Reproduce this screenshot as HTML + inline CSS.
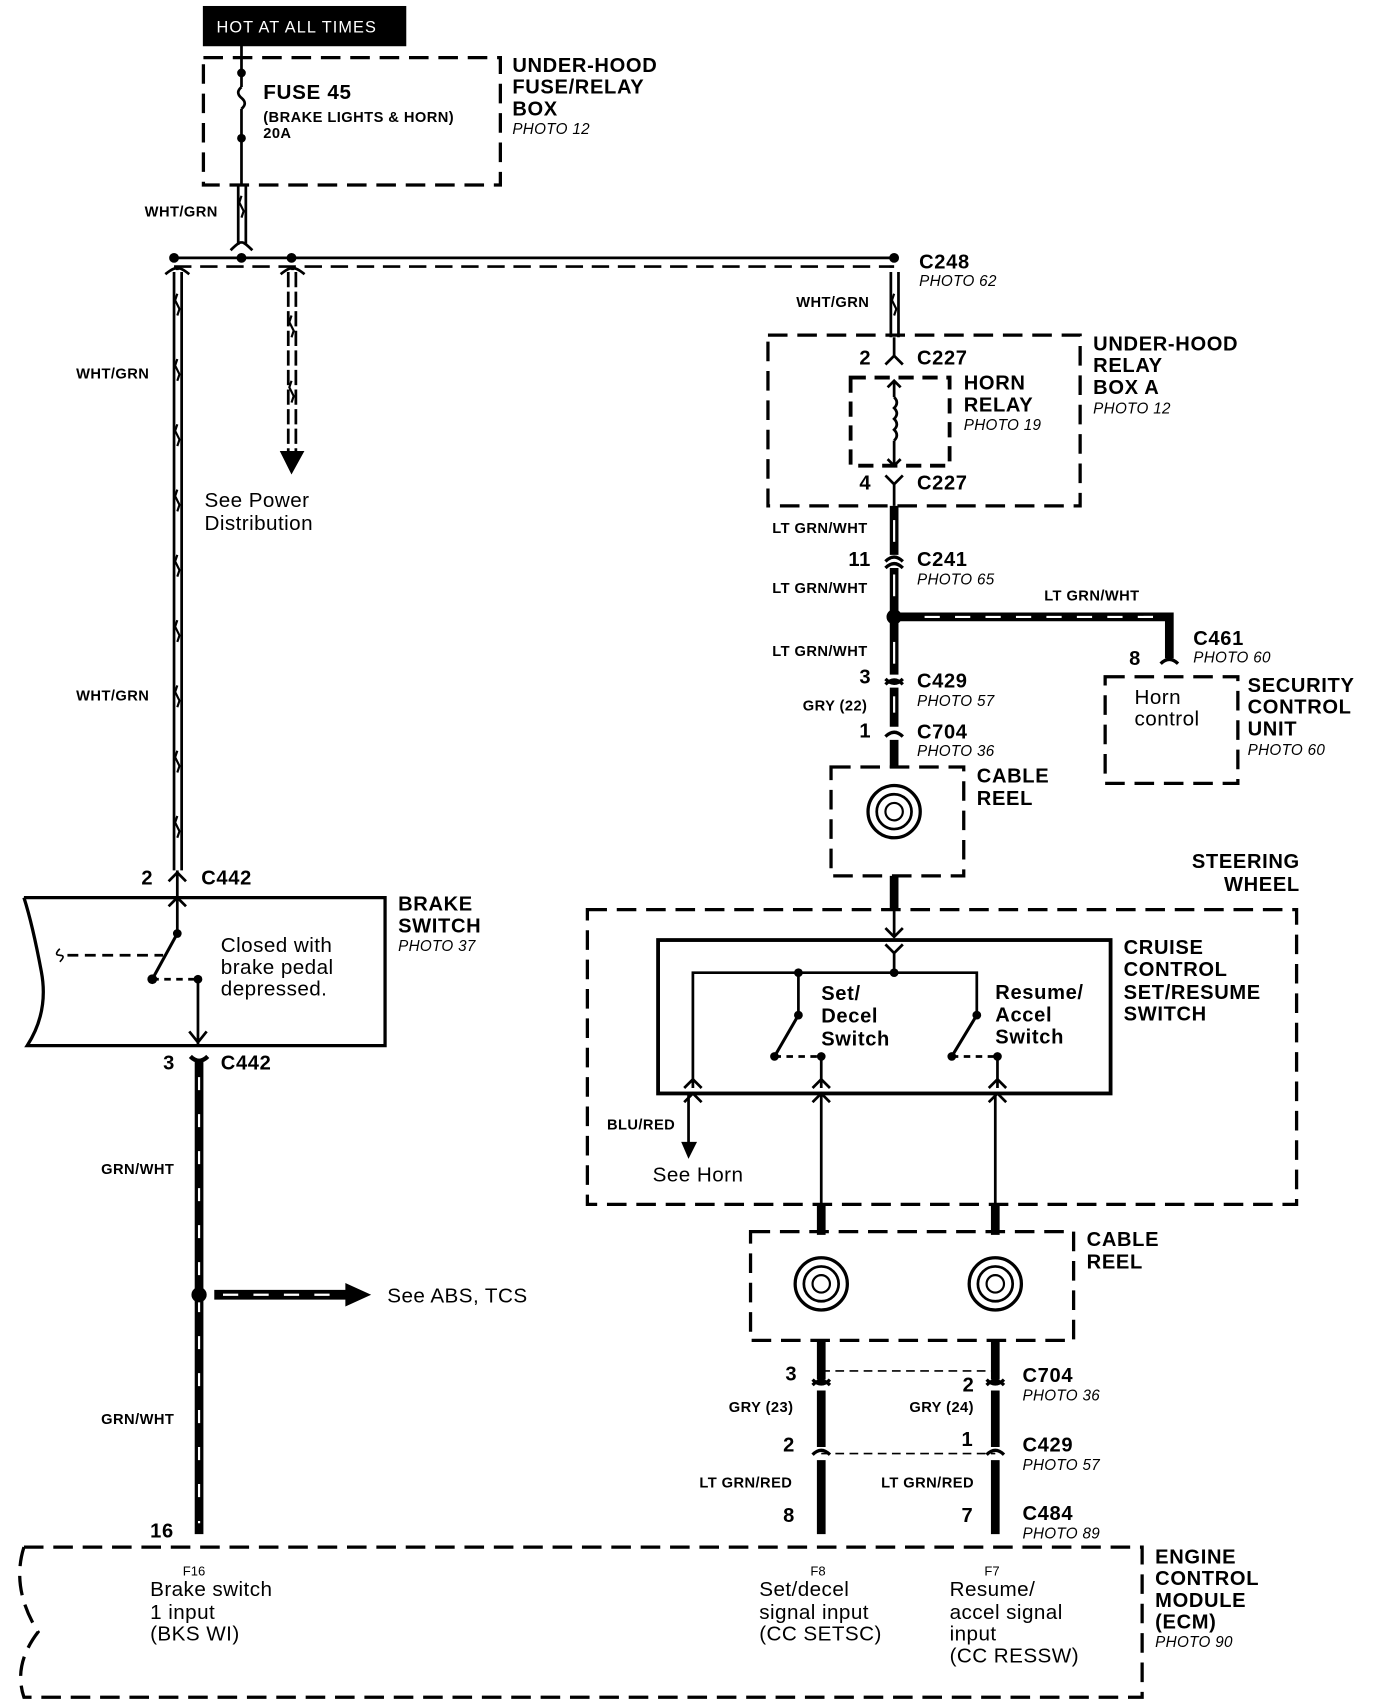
<!DOCTYPE html>
<html><head><meta charset="utf-8"><style>
html,body{margin:0;padding:0;background:#fff;}
svg{display:block;}
text{font-family:"Liberation Sans",Arial,sans-serif;fill:#000;}
.b{font-weight:bold;font-size:18.5px;letter-spacing:0.6px;}
.s{font-weight:bold;font-size:13.5px;letter-spacing:0.4px;}
.i{font-style:italic;font-size:14px;letter-spacing:0.3px;}
.n{font-size:19px;letter-spacing:0.4px;}
</style></head><body>
<svg width="1376" height="1706" viewBox="0 0 1265 1568" preserveAspectRatio="none" xmlns="http://www.w3.org/2000/svg">
<g fill="none" stroke="#000">
<rect x="187" y="6" width="186" height="36" fill="#000"/>
<rect x="187" y="53" width="273" height="117" stroke-width="3" stroke-dasharray="18 9"/>
<line x1="222" y1="42" x2="222" y2="80" stroke-width="2.5"/>
<path d="M222 80 q-6 5 0 10 q6 5 0 10" stroke-width="2.5"/>
<line x1="222" y1="100" x2="222" y2="170" stroke-width="2.5"/>
<g stroke-width="2.5">
<line x1="219" y1="170" x2="219" y2="225"/><line x1="226" y1="170" x2="226" y2="225"/>
<path d="M212 230 q10 -10 10 -6 q0 -4 10 6"/>
<line x1="160" y1="237" x2="822" y2="237"/>
<line x1="160" y1="245" x2="822" y2="245" stroke-dasharray="16 8"/>
<line x1="160" y1="250" x2="160" y2="800"/><line x1="167" y1="250" x2="167" y2="800"/>
<path d="M152 252 q10 -8 11 -4 q1 -4 11 4"/>
<line x1="265" y1="250" x2="265" y2="415" stroke-dasharray="14 4"/><line x1="272" y1="250" x2="272" y2="415" stroke-dasharray="14 4"/>
<path d="M258 252 q10 -8 11 -4 q1 -4 11 4"/>
<line x1="819" y1="250" x2="819" y2="310"/><line x1="826" y1="250" x2="826" y2="310"/>
</g>
<polygon points="258,415 279,415 268,435" fill="#000"/>
<g stroke-width="2">
<path d="M163 270 l-2 6 l4 8 l-2 6 M163 330 l-2 6 l4 8 l-2 6 M163 390 l-2 6 l4 8 l-2 6 M163 450 l-2 6 l4 8 l-2 6 M163 510 l-2 6 l4 8 l-2 6 M163 570 l-2 6 l4 8 l-2 6 M163 630 l-2 6 l4 8 l-2 6 M163 690 l-2 6 l4 8 l-2 6 M163 750 l-2 6 l4 8 l-2 6"/>
<path d="M268 290 l-2 6 l4 8 l-2 6 M268 350 l-2 6 l4 8 l-2 6 M222 180 l-2 6 l4 8 l-2 6 M822 270 l-2 6 l4 8 l-2 6"/>
</g>
<g fill="#000" stroke="none">
<circle cx="160" cy="237" r="4.5"/><circle cx="222" cy="237" r="4.5"/><circle cx="268" cy="237" r="4.5"/><circle cx="822" cy="237" r="4.5"/>
<circle cx="222" cy="67" r="4"/><circle cx="222" cy="127" r="4"/>
</g>
<rect x="706" y="308" width="287" height="157" stroke-width="3" stroke-dasharray="18 9"/>
<path d="M814 335 l8 -8 l8 8 M822 327 v-17" stroke-width="2.5"/>
<rect x="782" y="347" width="91" height="81" stroke-width="3.5" stroke-dasharray="14 8"/>
<line x1="822" y1="350" x2="822" y2="365" stroke-width="2.5"/>
<path d="M816 356 l6 -6 l6 6 M816 422 l6 6 l6 -6" stroke-width="2.5"/>
<path d="M822 365 q5 5 0 10 q5 5 0 10 q5 5 0 10 q5 5 0 10" stroke-width="2.5"/>
<line x1="822" y1="405" x2="822" y2="428" stroke-width="2.5"/>
<path d="M814 437 l8 8 l8 -8 M822 445 v20" stroke-width="2.5"/>
<g stroke-width="8">
<line x1="822" y1="465" x2="822" y2="510"/>
<line x1="822" y1="522" x2="822" y2="620"/>
<line x1="822" y1="567" x2="1077" y2="567"/>
<line x1="1075" y1="563" x2="1075" y2="605"/>
<line x1="822" y1="632" x2="822" y2="668"/>
<line x1="822" y1="680" x2="822" y2="706"/>
<line x1="822" y1="805" x2="822" y2="836"/>
</g>
<g stroke="#fff" stroke-width="2">
<line x1="822" y1="478" x2="822" y2="498"/><line x1="822" y1="528" x2="822" y2="548"/><line x1="822" y1="590" x2="822" y2="610"/>
<line x1="822" y1="640" x2="822" y2="655"/>
<line x1="850" y1="567" x2="1060" y2="567" stroke-dasharray="14 14"/>
</g>
<path d="M814 516 q8 -8 16 0 M814 522 q8 -8 16 0 M814 629 q8 -8 16 0 M814 624 q8 8 16 0 M814 677 q8 -8 16 0 M1067 610 q8 -8 16 0" stroke-width="3"/>
<circle cx="822" cy="567" r="7" fill="#000" stroke="none"/>
<rect x="1016" y="622" width="122" height="98" stroke-width="3" stroke-dasharray="18 9"/>
<rect x="764" y="705" width="122" height="100" stroke-width="3" stroke-dasharray="18 9"/>
<circle cx="822" cy="746" r="24" stroke-width="3"/><circle cx="822" cy="746" r="16" stroke-width="2.5"/><circle cx="822" cy="746" r="8" stroke-width="2"/>
<rect x="540" y="836" width="652" height="271" stroke-width="3" stroke-dasharray="18 9"/>
<line x1="822" y1="836" x2="822" y2="860" stroke-width="2.5"/>
<path d="M814 853 l8 8 l8 -8" stroke-width="2.5"/>
<rect x="605" y="864" width="416" height="141" stroke-width="3.5"/>
<path d="M814 868 l8 8 l8 -8 M822 876 v17" stroke-width="2.5"/>
<path d="M637 1000 V894 H898 V933 M734 894 V933" stroke-width="2.5"/>
<path d="M734 933 L712 971 M898 933 L875 971" stroke-width="2.8"/>
<path d="M712 971 L752 971 M875 971 L915 971" stroke-width="2.5" stroke-dasharray="6 5"/>
<g fill="#000" stroke="none">
<circle cx="734" cy="894" r="4"/><circle cx="822" cy="894" r="4"/><circle cx="734" cy="933" r="4"/><circle cx="898" cy="933" r="4"/>
<circle cx="712" cy="971" r="4"/><circle cx="755" cy="971" r="4"/><circle cx="875" cy="971" r="4"/><circle cx="917" cy="971" r="4"/>
</g>
<path d="M755 971 V1000 M917 971 V1000" stroke-width="2.5"/>
<path d="M629 1000 l8 -8 l8 8 M747 1000 l8 -8 l8 8 M909 1000 l8 -8 l8 8 M629 1013 l8 -8 l8 8 M747 1013 l8 -8 l8 8 M909 1013 l8 -8 l8 8" stroke-width="2.5"/>
<line x1="633" y1="1005" x2="633" y2="1052" stroke-width="2.5"/>
<polygon points="627,1050 640,1050 633,1064" fill="#000"/>
<path d="M755 1005 V1107 M915 1005 V1107" stroke-width="2.5"/>
<path d="M755 1107 V1135 M915 1107 V1135" stroke-width="8"/>
<rect x="690" y="1132" width="297" height="100" stroke-width="3" stroke-dasharray="18 9"/>
<circle cx="755" cy="1180" r="24" stroke-width="3"/><circle cx="755" cy="1180" r="16" stroke-width="2.5"/><circle cx="755" cy="1180" r="8" stroke-width="2"/>
<circle cx="915" cy="1180" r="24" stroke-width="3"/><circle cx="915" cy="1180" r="16" stroke-width="2.5"/><circle cx="915" cy="1180" r="8" stroke-width="2"/>
<g stroke-width="8">
<path d="M755 1232 V1268 M755 1278 V1330 M755 1342 V1410 M915 1232 V1268 M915 1278 V1330 M915 1342 V1410"/>
</g>
<path d="M747 1273 q8 -8 16 0 M747 1268 q8 8 16 0 M907 1273 q8 -8 16 0 M907 1268 q8 8 16 0 M747 1337 q8 -8 16 0 M907 1337 q8 -8 16 0" stroke-width="3"/>
<path d="M755 1260 H915 M755 1336 H915" stroke-width="1.5" stroke-dasharray="8 5"/>
<path d="M22 825 H354 V961 H25 Q45 930 38 893 Q30 850 22 825" stroke-width="3"/>
<path d="M163 800 V858" stroke-width="2.5"/>
<path d="M155 810 l8 -8 l8 8 M155 833 l8 -8 l8 8" stroke-width="2.5"/>
<path d="M163 858 L140 900" stroke-width="2.8"/>
<path d="M62 878 H150" stroke-width="2.5" stroke-dasharray="10 6"/>
<path d="M55 872 q-6 6 0 6 q6 0 0 6" stroke-width="1.5"/>
<path d="M140 900 H182" stroke-width="2.5" stroke-dasharray="6 5"/>
<path d="M182 900 V960 M174 948 l8 10 l8 -10" stroke-width="2.5"/>
<g fill="#000" stroke="none"><circle cx="163" cy="858" r="4"/><circle cx="140" cy="900" r="4.5"/><circle cx="182" cy="900" r="4"/></g>
<path d="M175 971 q8 8 16 0" stroke-width="4"/>
<line x1="183" y1="975" x2="183" y2="1410" stroke-width="8"/>
<g stroke="#fff" stroke-width="2"><line x1="183" y1="990" x2="183" y2="1400" stroke-dasharray="12 22"/></g>
<circle cx="183" cy="1190" r="7" fill="#000" stroke="none"/>
<line x1="197" y1="1190" x2="320" y2="1190" stroke-width="9"/>
<line x1="205" y1="1190" x2="310" y2="1190" stroke="#fff" stroke-width="2" stroke-dasharray="14 14"/>
<polygon points="318,1180 340,1190 318,1200" fill="#000"/>
<path d="M22 1422 H1050 V1560 H22 Q12 1530 35 1500 Q10 1460 22 1422" stroke-width="3" stroke-dasharray="18 9"/>
</g>
<text x="199" y="30" fill="#fff" style="fill:#fff;font-size:15px;letter-spacing:1px">HOT AT ALL TIMES</text>
<text x="242" y="91" class="b" style="font-size:19px">FUSE 45</text>
<text x="242" y="112" class="s">(BRAKE LIGHTS &amp; HORN)</text>
<text x="242" y="127" class="s">20A</text>
<text x="471" y="66" class="b">UNDER-HOOD</text><text x="471" y="86" class="b">FUSE/RELAY</text><text x="471" y="106" class="b">BOX</text>
<text x="471" y="123" class="i">PHOTO 12</text>
<text x="133" y="199" class="s">WHT/GRN</text>
<text x="70" y="348" class="s">WHT/GRN</text><text x="70" y="644" class="s">WHT/GRN</text>
<text x="188" y="466" class="n">See Power</text><text x="188" y="487" class="n">Distribution</text>
<text x="845" y="247" class="b">C248</text><text x="845" y="263" class="i">PHOTO 62</text>
<text x="732" y="282" class="s">WHT/GRN</text>
<text x="790" y="335" class="b">2</text><text x="843" y="335" class="b">C227</text>
<text x="886" y="358" class="b">HORN</text><text x="886" y="378" class="b">RELAY</text><text x="886" y="395" class="i">PHOTO 19</text>
<text x="790" y="450" class="b">4</text><text x="843" y="450" class="b">C227</text>
<text x="1005" y="322" class="b">UNDER-HOOD</text><text x="1005" y="342" class="b">RELAY</text><text x="1005" y="362" class="b">BOX A</text><text x="1005" y="380" class="i">PHOTO 12</text>
<text x="710" y="490" class="s">LT GRN/WHT</text>
<text x="780" y="520" class="b">11</text><text x="843" y="520" class="b">C241</text><text x="843" y="537" class="i">PHOTO 65</text>
<text x="710" y="545" class="s">LT GRN/WHT</text>
<text x="960" y="552" class="s">LT GRN/WHT</text>
<text x="1097" y="593" class="b">C461</text><text x="1097" y="609" class="i">PHOTO 60</text>
<text x="1038" y="611" class="b">8</text>
<text x="1043" y="647" class="n">Horn</text><text x="1043" y="667" class="n">control</text>
<text x="1147" y="636" class="b">SECURITY</text><text x="1147" y="656" class="b">CONTROL</text><text x="1147" y="676" class="b">UNIT</text><text x="1147" y="694" class="i">PHOTO 60</text>
<text x="710" y="603" class="s">LT GRN/WHT</text>
<text x="790" y="628" class="b">3</text><text x="843" y="632" class="b">C429</text><text x="843" y="649" class="i">PHOTO 57</text>
<text x="738" y="653" class="s">GRY (22)</text>
<text x="790" y="678" class="b">1</text><text x="843" y="679" class="b">C704</text><text x="843" y="695" class="i">PHOTO 36</text>
<text x="898" y="719" class="b">CABLE</text><text x="898" y="740" class="b">REEL</text>
<text x="1195" y="798" class="b" text-anchor="end">STEERING</text><text x="1195" y="819" class="b" text-anchor="end">WHEEL</text>
<text x="1033" y="877" class="b">CRUISE</text><text x="1033" y="897" class="b">CONTROL</text><text x="1033" y="918" class="b">SET/RESUME</text><text x="1033" y="938" class="b">SWITCH</text>
<text x="755" y="919" class="b">Set/</text><text x="755" y="940" class="b">Decel</text><text x="755" y="961" class="b">Switch</text>
<text x="915" y="918" class="b">Resume/</text><text x="915" y="939" class="b">Accel</text><text x="915" y="959" class="b">Switch</text>
<text x="558" y="1038" class="s">BLU/RED</text>
<text x="600" y="1086" class="n">See Horn</text>
<text x="999" y="1145" class="b">CABLE</text><text x="999" y="1166" class="b">REEL</text>
<text x="722" y="1269" class="b">3</text><text x="940" y="1270" class="b">C704</text><text x="940" y="1287" class="i">PHOTO 36</text>
<text x="885" y="1279" class="b">2</text>
<text x="670" y="1298" class="s">GRY (23)</text><text x="836" y="1298" class="s">GRY (24)</text>
<text x="720" y="1334" class="b">2</text><text x="884" y="1329" class="b">1</text>
<text x="940" y="1334" class="b">C429</text><text x="940" y="1351" class="i">PHOTO 57</text>
<text x="643" y="1367" class="s">LT GRN/RED</text><text x="810" y="1367" class="s">LT GRN/RED</text>
<text x="720" y="1399" class="b">8</text><text x="884" y="1399" class="b">7</text>
<text x="940" y="1397" class="b">C484</text><text x="940" y="1414" class="i">PHOTO 89</text>
<text x="130" y="813" class="b">2</text><text x="185" y="813" class="b">C442</text>
<text x="366" y="837" class="b">BRAKE</text><text x="366" y="857" class="b">SWITCH</text><text x="366" y="874" class="i">PHOTO 37</text>
<text x="203" y="875" class="n">Closed with</text><text x="203" y="895" class="n">brake pedal</text><text x="203" y="915" class="n">depressed.</text>
<text x="150" y="983" class="b">3</text><text x="203" y="983" class="b">C442</text>
<text x="93" y="1079" class="s">GRN/WHT</text><text x="93" y="1309" class="s">GRN/WHT</text>
<text x="356" y="1197" class="n">See ABS, TCS</text>
<text x="138" y="1413" class="b">16</text>
<text x="168" y="1448" style="font-size:12px">F16</text>
<text x="138" y="1467" class="n">Brake switch</text><text x="138" y="1488" class="n">1 input</text><text x="138" y="1508" class="n">(BKS WI)</text>
<text x="745" y="1448" style="font-size:12px">F8</text>
<text x="698" y="1467" class="n">Set/decel</text><text x="698" y="1488" class="n">signal input</text><text x="698" y="1508" class="n">(CC SETSC)</text>
<text x="905" y="1448" style="font-size:12px">F7</text>
<text x="873" y="1467" class="n">Resume/</text><text x="873" y="1488" class="n">accel signal</text><text x="873" y="1508" class="n">input</text><text x="873" y="1528" class="n">(CC RESSW)</text>
<text x="1062" y="1437" class="b">ENGINE</text><text x="1062" y="1457" class="b">CONTROL</text><text x="1062" y="1477" class="b">MODULE</text><text x="1062" y="1497" class="b">(ECM)</text><text x="1062" y="1514" class="i">PHOTO 90</text>
</svg>
</body></html>
